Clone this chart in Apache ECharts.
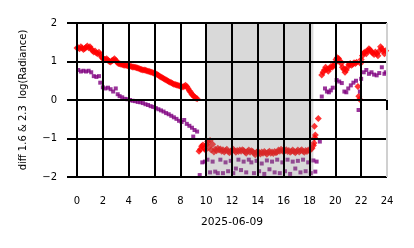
<!DOCTYPE html>
<html><head><meta charset="utf-8">
<script src="https://cdn.jsdelivr.net/npm/echarts@6/dist/echarts.min.js"></script>
<style>html,body{margin:0;padding:0;background:#fff}#c{width:414px;height:248px}</style>
</head><body><div id="c"></div>
<script>
// Red series (diff 1.6 µm)
const redTime = [
0.0,0.1,0.2,0.3,0.4,0.5,0.6,0.7,0.8,0.9,1.0,1.1,1.2,1.3,1.4,1.5,1.6,1.7,1.8,1.9,
2.0,2.1,2.2,2.3,2.4,2.5,2.6,2.7,2.8,2.9,3.0,3.1,3.2,3.3,3.4,3.5,3.6,3.7,3.8,3.9,
4.0,4.1,4.2,4.3,4.4,4.5,4.6,4.7,4.8,4.9,5.0,5.1,5.2,5.3,5.4,5.5,5.6,5.7,5.8,5.9,
6.0,6.1,6.2,6.3,6.4,6.5,6.6,6.7,6.8,6.9,7.0,7.1,7.2,7.3,7.4,7.5,7.6,7.7,7.8,7.9,
8.0,8.1,8.2,8.3,8.4,8.5,8.6,8.7,8.8,8.9,9.0,9.1,9.2,9.3,
9.45,9.55,9.65,9.75,9.85,9.95,10.05,10.12,
10.2,10.3,10.4,10.5,10.6,10.7,10.8,10.9,11.0,11.1,11.2,11.3,11.4,11.5,11.6,11.7,11.8,11.9,
12.0,12.1,12.2,12.3,12.4,12.5,12.6,12.7,12.8,12.9,13.0,13.1,13.2,13.3,13.4,13.5,13.6,13.7,13.8,13.9,
14.0,14.1,14.2,14.3,14.4,14.5,14.6,14.7,14.8,14.9,15.0,15.1,15.2,15.3,15.4,15.5,15.6,15.7,15.8,15.9,
16.0,16.1,16.2,16.3,16.4,16.5,16.6,16.7,16.8,16.9,17.0,17.1,17.2,17.3,17.4,17.5,17.6,17.7,17.8,17.9,
18.0,18.1,18.2,18.3,18.35,18.4,18.45,18.38,18.68,
18.95,19.05,19.15,19.25,19.35,19.45,19.55,19.65,19.75,19.85,19.95,20.05,20.15,20.25,20.35,20.45,
20.55,20.65,20.75,20.85,20.95,21.05,21.15,21.25,21.35,21.45,21.55,21.65,21.75,21.82,21.88,21.95,
22.0,22.1,22.2,22.3,22.4,22.5,22.6,22.7,22.8,22.9,23.0,23.1,23.2,23.3,23.4,23.5,23.6,23.7,23.8,23.9
];
const redValue = [
1.35,1.36,1.33,1.38,1.35,1.31,1.34,1.37,1.40,1.36,1.38,1.33,1.28,1.25,1.27,1.22,1.20,1.24,1.18,1.12,
1.08,1.06,1.05,1.07,1.03,1.00,0.99,1.02,1.04,1.07,1.03,0.98,0.95,0.94,0.93,0.92,0.91,0.90,0.90,0.89,
0.88,0.88,0.87,0.86,0.86,0.85,0.84,0.83,0.82,0.80,0.79,0.78,0.78,0.77,0.76,0.75,0.74,0.73,0.72,0.70,
0.69,0.68,0.66,0.64,0.62,0.60,0.58,0.56,0.54,0.52,0.50,0.48,0.46,0.45,0.43,0.41,0.40,0.39,0.38,0.37,
0.36,0.35,0.34,0.36,0.38,0.35,0.30,0.24,0.20,0.14,0.12,0.08,0.05,0.03,
-1.33,-1.28,-1.20,-1.17,-1.25,-1.30,-1.15,-1.08,
-1.22,-1.05,-1.30,-1.15,-1.35,-1.28,-1.32,-1.25,-1.30,-1.27,-1.33,-1.29,-1.35,-1.31,-1.28,-1.34,-1.37,-1.33,
-1.30,-1.28,-1.32,-1.36,-1.31,-1.34,-1.30,-1.33,-1.29,-1.31,-1.35,-1.38,-1.33,-1.30,-1.36,-1.32,-1.34,-1.38,-1.42,-1.36,
-1.33,-1.37,-1.40,-1.35,-1.38,-1.34,-1.37,-1.41,-1.36,-1.33,-1.38,-1.35,-1.39,-1.34,-1.37,-1.35,-1.30,-1.33,-1.28,-1.31,
-1.35,-1.32,-1.29,-1.34,-1.31,-1.36,-1.33,-1.30,-1.34,-1.37,-1.33,-1.30,-1.35,-1.32,-1.29,-1.33,-1.36,-1.31,-1.34,-1.30,
-1.32,-1.28,-1.25,-1.18,-1.12,-0.98,-0.91,-0.68,-0.48,
0.65,0.72,0.78,0.85,0.80,0.75,0.82,0.87,0.85,0.88,0.95,1.05,1.10,1.08,1.02,0.95,
0.85,0.80,0.72,0.78,0.85,0.92,0.95,0.90,0.93,0.97,0.95,0.98,0.35,0.10,0.02,0.95,
1.05,1.15,1.22,1.25,1.20,1.28,1.33,1.30,1.25,1.22,1.18,1.25,1.20,1.15,1.27,1.38,1.33,1.28,1.20,1.28
];
// Purple series (diff 2.3 µm)
const purpleTime = [
0.1,0.3,0.5,0.7,0.9,1.1,1.3,1.5,1.7,1.8,2.0,2.2,2.4,2.6,2.8,3.0,3.15,3.3,3.5,3.7,3.9,
4.1,4.3,4.5,4.7,4.9,5.1,5.3,5.5,5.7,5.9,6.1,6.3,6.5,6.7,6.9,7.1,7.3,7.5,7.7,7.9,
8.1,8.3,8.5,8.7,8.9,9.0,9.1,9.3,
9.5,9.7,9.9,10.1,10.3,10.5,10.7,10.9,11.1,11.3,11.5,11.7,11.9,12.1,12.3,12.5,12.7,12.9,
13.1,13.3,13.5,13.7,13.9,14.1,14.3,14.5,14.7,14.9,15.1,15.3,15.5,15.7,15.9,16.1,16.3,16.5,
16.7,16.9,17.1,17.3,17.5,17.7,17.9,18.1,18.3,18.45,18.55,18.8,
18.95,19.2,19.35,19.5,19.65,19.8,20.1,20.3,20.5,20.7,20.85,21.0,21.2,21.4,21.6,21.8,21.9,
22.0,22.2,22.4,22.6,22.8,23.0,23.2,23.4,23.6,23.8,23.9
];
const purpleValue = [
0.78,0.74,0.76,0.74,0.76,0.72,0.62,0.60,0.62,0.45,0.33,0.30,0.32,0.28,0.22,0.30,0.15,0.10,0.07,0.03,0.02,
0.00,-0.02,-0.03,-0.05,-0.06,-0.08,-0.11,-0.13,-0.16,-0.18,-0.21,-0.24,-0.27,-0.30,-0.34,-0.37,-0.41,-0.45,-0.49,-0.54,
-0.57,-0.52,-0.62,-0.67,-0.72,-0.95,-0.78,-0.82,
-1.95,-1.62,-1.60,-1.55,-1.88,-1.60,-1.86,-1.90,-1.55,-1.90,-1.62,-1.85,-1.58,-1.90,-1.78,-1.55,-1.82,-1.60,
-1.88,-1.55,-1.62,-1.90,-1.58,-1.85,-1.65,-1.92,-1.57,-1.80,-1.60,-1.88,-1.55,-1.90,-1.62,-1.85,-1.55,-1.92,
-1.60,-1.78,-1.58,-1.88,-1.55,-1.85,-1.62,-1.90,-1.57,-1.86,-1.60,-1.08,
0.09,0.30,0.22,0.20,0.25,0.32,0.52,0.48,0.44,0.22,0.20,0.30,0.38,0.45,0.50,-0.26,0.22,
0.55,0.72,0.78,0.68,0.72,0.66,0.64,0.70,0.85,0.68,0.72
];
const xTicks = {min: 0, max: 24, step: 2};
const yTicks = {min: -2, max: 2, step: 1};
const shadedSpan = [10.0, 18.3];
const xName = '2025-06-09';
const yName = 'diff 1.6 & 2.3  log(Radiance)';

const pair = (t, v) => t.map((x, i) => [x, v[i]]);
const font = 'DejaVu Sans';
const minus = v => String(v).replace('-', '\u2212');
const xLineColors = [];
for (let v = xTicks.min; v <= xTicks.max; v += xTicks.step) xLineColors.push(v === xTicks.max ? '#d0d0d0' : '#000');

const chart = echarts.init(document.getElementById('c'), null, {renderer: 'canvas'});
chart.setOption({
  animation: false,
  backgroundColor: '#fff',
  grid: {left: 77, right: 27, top: 23, bottom: 71},
  xAxis: {
    type: 'value', min: xTicks.min, max: xTicks.max, interval: xTicks.step, z: 6,
    name: xName, nameLocation: 'middle', nameGap: 40,
    nameTextStyle: {fontFamily: font, fontSize: 10.7, color: '#000'},
    axisLine: {show: false},
    axisTick: {show: true, length: 10, lineStyle: {color: '#000', width: 2}},
    axisLabel: {fontFamily: font, fontSize: 10, color: '#000', margin: 19, formatter: minus},
    splitLine: {show: true, lineStyle: {color: xLineColors, width: 2}}
  },
  yAxis: {
    type: 'value', min: yTicks.min, max: yTicks.max, interval: yTicks.step, z: 6,
    name: yName, nameLocation: 'middle', nameGap: 49,
    nameTextStyle: {fontFamily: font, fontSize: 10, color: '#000'},
    axisLine: {show: false},
    axisTick: {show: true, length: 10, lineStyle: {color: '#000', width: 2}},
    axisLabel: {fontFamily: font, fontSize: 10, color: '#000', margin: 20, formatter: minus},
    splitLine: {show: true, lineStyle: {color: '#000', width: 2}}
  },
  series: [
    {type: 'scatter', name: 'red', data: pair(redTime, redValue), symbol: 'diamond', symbolSize: 7,
     itemStyle: {color: '#ff0000'}, z: 2},
    {type: 'scatter', name: 'purple', data: pair(purpleTime, purpleValue), symbol: 'rect', symbolSize: 4,
     itemStyle: {color: '#800080'}, z: 2},
    {type: 'custom', z: 4, silent: true, data: [shadedSpan],
     renderItem: (params, api) => {
       const p0 = api.coord([api.value(0), yTicks.max]);
       const p1 = api.coord([api.value(1), yTicks.min]);
       return {type: 'rect', shape: {x: p0[0], y: p0[1], width: p1[0] - p0[0], height: p1[1] - p0[1]},
               style: {fill: 'rgba(128,128,128,0.3)'}};
     }}
  ]
});
</script></body></html>
